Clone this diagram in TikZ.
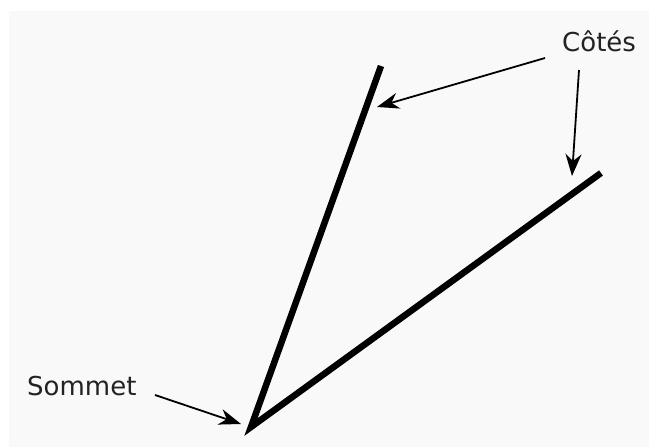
\documentclass[tikz,border=0pt]{standalone}
\usepackage{fontspec}
\setmainfont{DejaVu Sans}
\usetikzlibrary{arrows.meta}
\definecolor{bgray}{RGB}{249,249,249}
\definecolor{txt}{RGB}{35,35,35}
\tikzset{
  side/.style={line width=6.5pt, line join=miter, line cap=butt},
  pointer/.style={line width=1.8pt, -{Stealth[length=22pt, width=16pt, inset=7pt]}},
  lbl/.style={anchor=base west, inner sep=0pt, text=txt, font=\fontsize{26}{30}\selectfont}
}
\begin{document}
\begin{tikzpicture}[x=1pt, y=-1pt]
\useasboundingbox (0,0) rectangle (649,447);
\fill[bgray] (9,11) rectangle (649,447);
% geometry
\coordinate (top) at (381,66);
\coordinate (vtx) at (251,427);
\coordinate (rend) at (601,173);
\draw[side] (top) -- (vtx) -- (rend);
% labels
\node[lbl] (cotes) at (562,52) {Côtés};
\node[lbl] (sommet) at (27,395) {Sommet};
% connector points
\coordinate (c1s) at (545,58);
\coordinate (c1e) at (377,107);
\coordinate (c2s) at (579,70);
\coordinate (c2e) at (572,176);
\coordinate (s1s) at (155,395);
\coordinate (s1e) at (241,424);
\draw[pointer] (c1s) -- (c1e);
\draw[pointer] (c2s) -- (c2e);
\draw[pointer] (s1s) -- (s1e);
\end{tikzpicture}
\end{document}
